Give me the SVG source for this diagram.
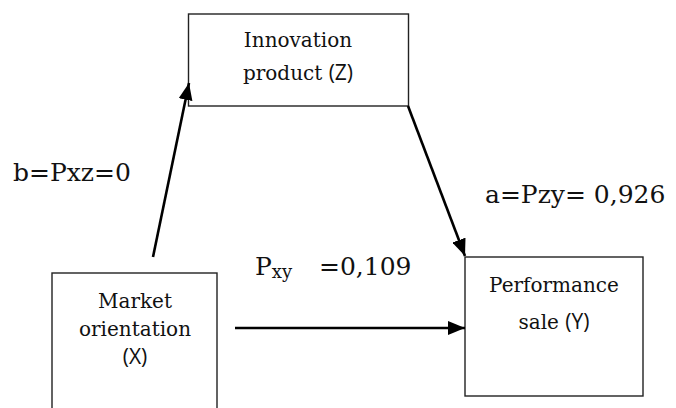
<svg xmlns="http://www.w3.org/2000/svg" width="676" height="408" viewBox="0 0 676 408">
<style>
.box{fill:#fff;stroke:#222;stroke-width:1.4}
.bt{font-family:"DejaVu Serif",serif;font-size:20px;fill:#111;text-anchor:middle}
.sn{font-family:"Open Sans",sans-serif;font-size:21px}
.lab{font-family:"DejaVu Serif",serif;font-size:25px;fill:#111}
.arr{stroke:#000;stroke-width:2.6;fill:none;marker-end:url(#ah)}
</style>
<defs>
<marker id="ah" markerUnits="userSpaceOnUse" markerWidth="18" markerHeight="14" refX="17" refY="7" orient="auto">
<path d="M0,0 L17,7 L0,14 z" fill="#000"/>
</marker>
</defs>
<rect width="676" height="408" fill="#fff"/>
<g id="node-z">
<rect class="box" x="188.5" y="14" width="220" height="92"/>
<text class="bt" x="298" y="47">Innovation</text>
<text class="bt" x="298" y="80">product <tspan class="sn">(Z)</tspan></text>
</g>
<g id="node-y">
<rect class="box" x="465" y="257" width="178" height="139"/>
<text class="bt" x="554" y="292">Performance</text>
<text class="bt" x="554" y="329">sale <tspan class="sn">(Y)</tspan></text>
</g>
<g id="node-x">
<rect class="box" x="52" y="273" width="165" height="145"/>
<text class="bt" x="135" y="308">Market</text>
<text class="bt" x="135" y="336">orientation</text>
<text class="bt sn" x="135" y="364">(X)</text>
</g>
<g id="connectors">
<line class="arr" x1="153" y1="257" x2="189" y2="83"/>
<line class="arr" x1="408" y1="106" x2="465" y2="256"/>
<line class="arr" x1="235" y1="328" x2="465" y2="328"/>
</g>
<g id="labels">
<text class="lab" x="13" y="181">b=Pxz=0</text>
<text class="lab" x="485" y="203">a=Pzy= 0,926</text>
<text class="lab" x="255" y="275">P<tspan font-size="18" dy="3">xy</tspan></text>
<text class="lab" x="319" y="275">=0,109</text>
</g>
</svg>
